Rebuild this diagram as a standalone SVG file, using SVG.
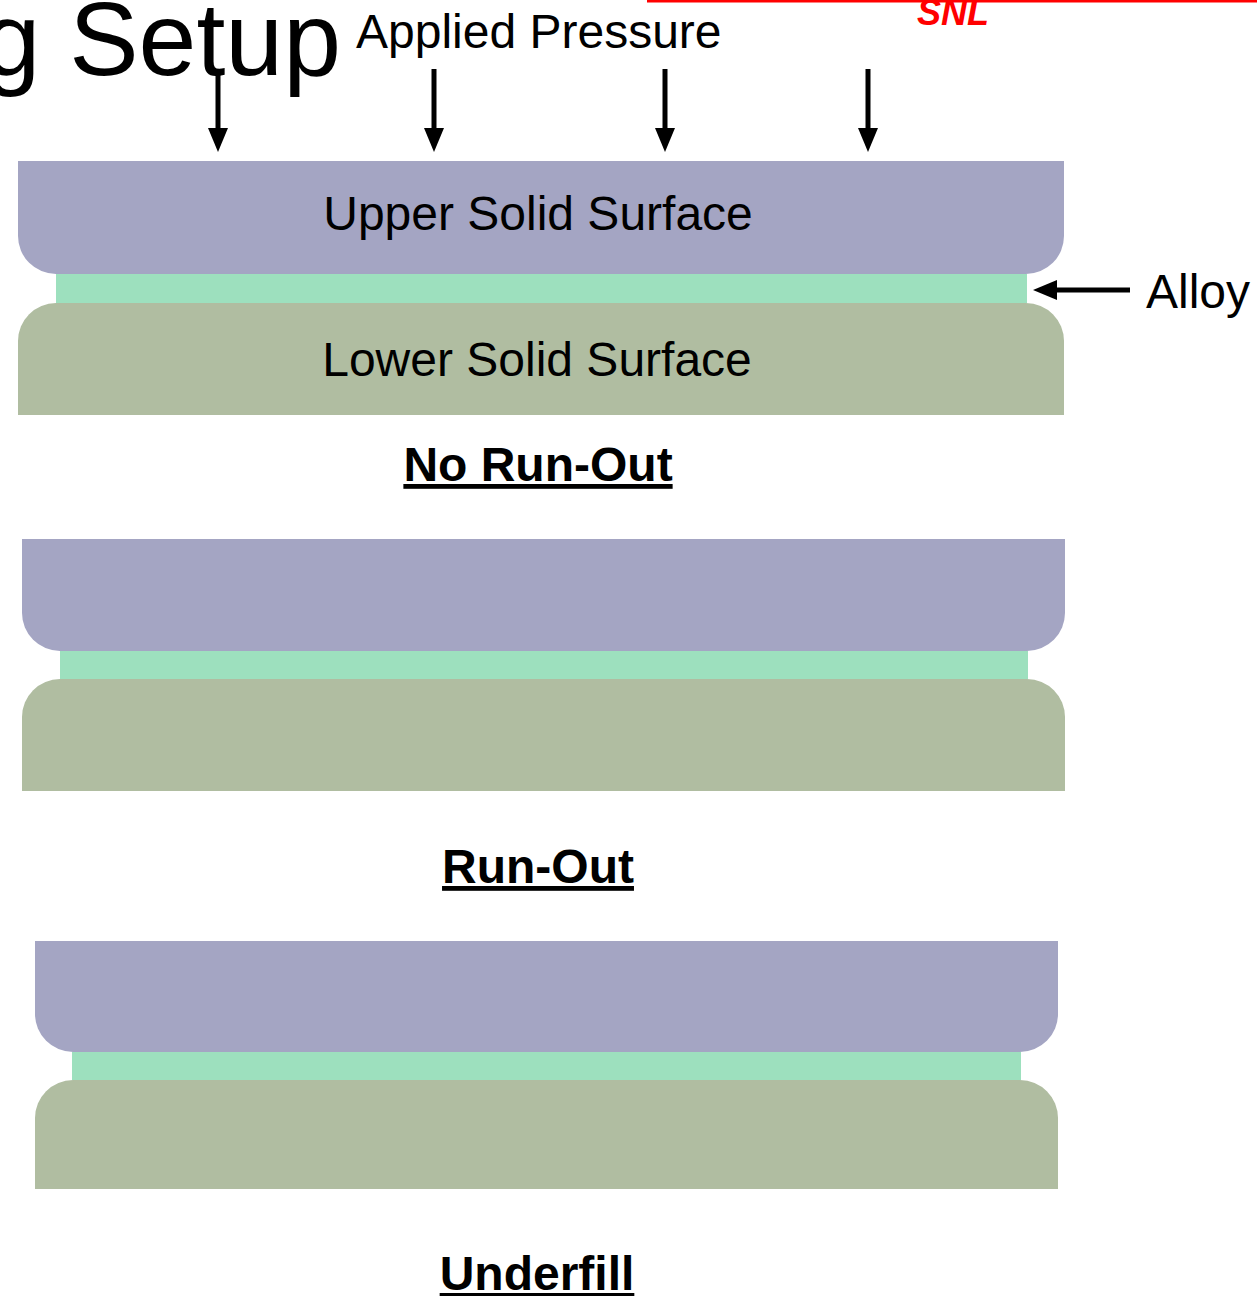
<svg xmlns="http://www.w3.org/2000/svg" width="1257" height="1296" viewBox="0 0 1257 1296">
<style>
.t{font-family:"Liberation Sans",Arial,sans-serif;fill:#000}
.up{fill:#A4A5C3}.al{fill:#9DE0BE}.lo{fill:#B0BDA1}
.cap{font-family:"Liberation Sans",Arial,sans-serif;font-weight:bold;font-size:48px;text-decoration:underline;text-anchor:middle}
.sh{stroke:#000;stroke-width:5;fill:none}
</style>
<defs>
<path id="hd" d="M-10,-24 L10,-24 L0,0 Z" fill="#000"/>
</defs>
<rect width="1257" height="1296" fill="#fff"/>
<line x1="647" y1="1" x2="1257" y2="1" stroke="#f00" stroke-width="3"/>
<text x="953" y="25" class="t" style="fill:#f00;font-weight:bold;font-style:italic;font-size:36px" text-anchor="middle">SNL</text>
<text x="341" y="75" class="t" style="font-size:104px" text-anchor="end">g Setup</text>
<text x="356" y="48" class="t" style="font-size:48px">Applied Pressure</text>
<g id="connectors">
<line class="sh" x1="218" y1="69" x2="218" y2="130"/><use href="#hd" transform="translate(218,152)"/>
<line class="sh" x1="434" y1="69" x2="434" y2="130"/><use href="#hd" transform="translate(434,152)"/>
<line class="sh" x1="665" y1="69" x2="665" y2="130"/><use href="#hd" transform="translate(665,152)"/>
<line class="sh" x1="868" y1="69" x2="868" y2="130"/><use href="#hd" transform="translate(868,152)"/>
<line class="sh" x1="1130" y1="290" x2="1055" y2="290"/><use href="#hd" transform="translate(1033,290) rotate(90)"/>
</g>
<g id="panel1">
<path class="up" d="M18,161 H1064 V236 A38,38 0 0 1 1026,274 H56 A38,38 0 0 1 18,236 Z"/>
<rect class="al" x="56" y="274" width="971" height="29"/>
<path class="lo" d="M56,303 H1026 A38,38 0 0 1 1064,341 V415 H18 V341 A38,38 0 0 1 56,303 Z"/>
<text x="538" y="230" class="t" style="font-size:48px" text-anchor="middle">Upper Solid Surface</text>
<text x="537" y="376" class="t" style="font-size:48px" text-anchor="middle">Lower Solid Surface</text>
<text x="1146" y="308" class="t" style="font-size:48px">Alloy</text>
<text x="538" y="481" class="cap">No Run-Out</text>
</g>
<g id="panel2">
<path class="up" d="M22,539 H1065 V613 A38,38 0 0 1 1027,651 H60 A38,38 0 0 1 22,613 Z"/>
<rect class="al" x="60" y="651" width="968" height="28"/>
<path class="lo" d="M60,679 H1027 A38,38 0 0 1 1065,717 V791 H22 V717 A38,38 0 0 1 60,679 Z"/>
<text x="538" y="883" class="cap">Run-Out</text>
</g>
<g id="panel3">
<path class="up" d="M35,941 H1058 V1014 A38,38 0 0 1 1020,1052 H73 A38,38 0 0 1 35,1014 Z"/>
<rect class="al" x="72" y="1052" width="949" height="28"/>
<path class="lo" d="M73,1080 H1020 A38,38 0 0 1 1058,1118 V1189 H35 V1118 A38,38 0 0 1 73,1080 Z"/>
<text x="537" y="1290" class="cap">Underfill</text>
</g>
</svg>
